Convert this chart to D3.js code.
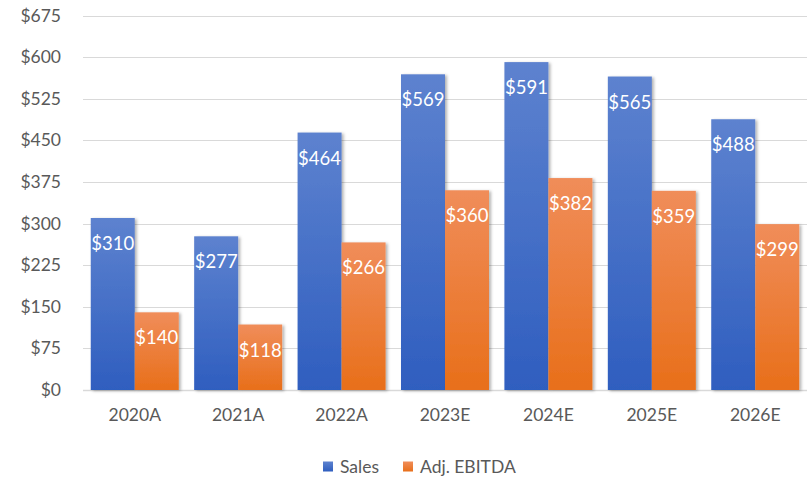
<!DOCTYPE html>
<html>
<head>
<meta charset="utf-8">
<script src="https://cdn.jsdelivr.net/npm/d3@7"></script>
<style>
  html, body { margin: 0; padding: 0; background: #ffffff; }
  svg { display: block; }
  text { font-family: Lato, "Open Sans", sans-serif; }
</style>
</head>
<body>
<svg id="chart" width="811" height="478"></svg>
<script>
// Sales and Adj. EBITDA by year ($)
const years = ["2020A", "2021A", "2022A", "2023E", "2024E", "2025E", "2026E"];
const sales = [310, 277, 464, 569, 591, 565, 488];
const ebitda = [140, 118, 266, 360, 382, 359, 299];
const yTicks = [0, 75, 150, 225, 300, 375, 450, 525, 600, 675];
const seriesNames = ["Sales", "Adj. EBITDA"];

const W = 811, H = 478;
const margin = { left: 83, right: 4, top: 15.5, bottom: 88 };
const svg = d3.select("#chart");

const x = d3.scaleBand().domain(years).range([margin.left, W - margin.right]).paddingInner(0.149).paddingOuter(0.075);
const xs = d3.scaleBand().domain([0, 1]).range([0, x.bandwidth()]);
const y = d3.scaleLinear().domain([0, 675]).range([H - margin.bottom, margin.top]);

const defs = svg.append("defs");
const grads = [
  { id: "gSales", top: "#5d82cf", bot: "#2f5ebf" },
  { id: "gEbitda", top: "#f08d5a", bot: "#e86f1a" }
];
grads.forEach(g => {
  const lg = defs.append("linearGradient").attr("id", g.id)
    .attr("x1", 0).attr("y1", 0).attr("x2", 0).attr("y2", 1);
  lg.append("stop").attr("offset", "0%").attr("stop-color", g.top);
  lg.append("stop").attr("offset", "100%").attr("stop-color", g.bot);
});
const f = defs.append("filter").attr("id", "shadow")
  .attr("x", "-20%").attr("y", "-10%").attr("width", "150%").attr("height", "120%");
f.append("feDropShadow").attr("dx", 2).attr("dy", 1).attr("stdDeviation", 1.6)
  .attr("flood-color", "#000").attr("flood-opacity", 0.3);

// gridlines
svg.append("g").selectAll("line").data(yTicks).join("line")
  .attr("x1", margin.left).attr("x2", W - margin.right)
  .attr("y1", d => Math.round(y(d)) + 0.5).attr("y2", d => Math.round(y(d)) + 0.5)
  .attr("stroke", "#d9d9d9").attr("stroke-width", d => d === 0 ? 1.5 : 1);

// y axis labels
const yAxis = d3.axisLeft(y).tickValues(yTicks).tickFormat(d => "$" + d).tickSize(0).tickPadding(22);
const gy = svg.append("g").attr("transform", `translate(${margin.left},0)`).call(yAxis);
gy.select(".domain").remove();
gy.selectAll("text").attr("font-size", 17.5).attr("fill", "#595959");

// x axis labels
const xAxis = d3.axisBottom(x).tickSize(0).tickPadding(19);
const gx = svg.append("g").attr("transform", `translate(0,${y(0)})`).call(xAxis);
gx.select(".domain").remove();
gx.selectAll("text").attr("font-size", 17.5).attr("fill", "#595959");

// bars
const data = years.map((yr, i) => ({ yr, vals: [sales[i], ebitda[i]] }));
const groups = svg.append("g").selectAll("g").data(data).join("g")
  .attr("transform", d => `translate(${x(d.yr)},0)`);

groups.selectAll("rect").data(d => d.vals.map((v, k) => ({ v, k }))).join("rect")
  .attr("x", d => xs(d.k))
  .attr("width", xs.bandwidth())
  .attr("y", d => y(d.v))
  .attr("height", d => y(0) - y(d.v))
  .attr("fill", d => `url(#${grads[d.k].id})`)
  .attr("filter", "url(#shadow)");

groups.selectAll("text.val").data(d => d.vals.map((v, k) => ({ v, k }))).join("text")
  .attr("class", "val")
  .attr("x", d => xs(d.k) + xs.bandwidth() / 2)
  .attr("y", d => y(d.v) + 32)
  .attr("text-anchor", "middle")
  .attr("font-size", 18.5)
  .attr("fill", "#ffffff")
  .text(d => "$" + d.v);

// legend
const legend = svg.append("g").attr("transform", "translate(323,467)");
const legItems = [{ name: seriesNames[0], x: 0 }, { name: seriesNames[1], x: 80 }];
legItems.forEach((it, k) => {
  legend.append("rect").attr("x", it.x).attr("y", -5.5).attr("width", 10).attr("height", 10)
    .attr("fill", `url(#${grads[k].id})`);
  legend.append("text").attr("x", it.x + 17).attr("y", 0).attr("dy", "0.35em")
    .attr("font-size", 17.5).attr("fill", "#595959").text(it.name);
});
</script>
</body>
</html>
